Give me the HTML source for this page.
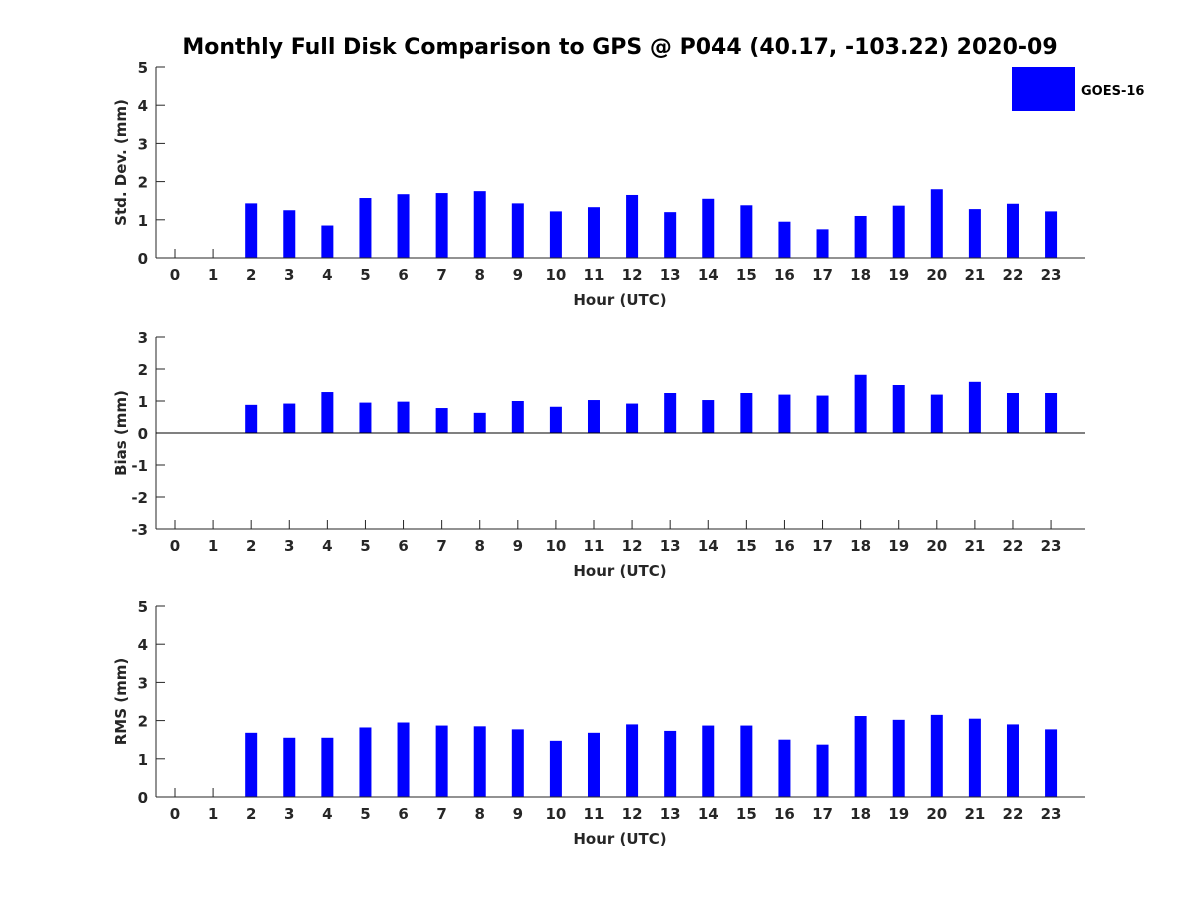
<!DOCTYPE html>
<html><head><meta charset="utf-8"><style>
body{margin:0;background:#fff;}
svg text{font-family:"DejaVu Sans","Liberation Sans",sans-serif;font-weight:bold;fill:#262626;}
</style></head><body>
<svg id="chart" width="1200" height="900" xmlns="http://www.w3.org/2000/svg">
<rect width="1200" height="900" fill="#fff"/>
<text x="620" y="54" text-anchor="middle" font-size="22" style="fill:#000">Monthly Full Disk Comparison to GPS @ P044 (40.17, -103.22) 2020-09</text>
<rect x="1012" y="67" width="63" height="44" fill="#0000ff"/>
<text x="1081" y="95" font-size="13" style="fill:#000">GOES-16</text>
</svg>
<script>
const hours = [0,1,2,3,4,5,6,7,8,9,10,11,12,13,14,15,16,17,18,19,20,21,22,23];
const stdDev = [null,null,1.43,1.25,0.85,1.57,1.67,1.7,1.75,1.43,1.22,1.33,1.65,1.2,1.55,1.38,0.95,0.75,1.1,1.37,1.8,1.28,1.42,1.22];
const bias = [null,null,0.88,0.92,1.28,0.95,0.98,0.78,0.63,1.0,0.82,1.03,0.92,1.25,1.03,1.25,1.2,1.17,1.82,1.5,1.2,1.6,1.25,1.25];
const rms = [null,null,1.68,1.55,1.55,1.82,1.95,1.87,1.85,1.77,1.47,1.68,1.9,1.73,1.87,1.87,1.5,1.37,2.12,2.02,2.15,2.05,1.9,1.77];
const stdTicks = [0,1,2,3,4,5];
const biasTicks = [-3,-2,-1,0,1,2,3];
const rmsTicks = [0,1,2,3,4,5];

const NS="http://www.w3.org/2000/svg";
const svg=document.getElementById('chart');
function mk(t,a){const e=document.createElementNS(NS,t);for(const k in a)e.setAttribute(k,a[k]);svg.appendChild(e);return e;}
const L=156,R=1085;
const xs=h=>175+h*38.09;
function panel(prefix,top,bottom,ymin,ymax,ticks,vals,ylabel){
  const ys=v=>bottom-(v-ymin)/(ymax-ymin)*(bottom-top);
  hours.forEach(h=>{
    const t=mk('line',{x1:xs(h),x2:xs(h),y1:bottom,y2:bottom-9,stroke:'#262626','stroke-width':1});
    
    
    const tx=mk('text',{x:xs(h),y:bottom+22,'text-anchor':'middle','font-size':15});
    tx.textContent=h;
    
    
  });
  ticks.forEach(v=>{
    const t=mk('line',{x1:L,x2:L+9,y1:ys(v),y2:ys(v),stroke:'#262626','stroke-width':1});
    
    
    const tx=mk('text',{x:L-8,y:ys(v)+6,'text-anchor':'end','font-size':15});
    tx.textContent=v;
    
    
  });
  vals.forEach((v,i)=>{
    if(v==null)return;
    const a=ys(0),b=ys(v);
    const r=mk('rect',{x:xs(hours[i])-6,y:Math.min(a,b),width:12,height:Math.abs(a-b),fill:'#0000ff'});
    
    
  });
  const ya=mk('line',{x1:L,x2:L,y1:top,y2:bottom,stroke:'#262626','stroke-width':1});
  
  
  const xa=mk('line',{x1:L,x2:R,y1:bottom,y2:bottom,stroke:'#262626','stroke-width':1});
  
  
  if(ymin<0){
    const z=mk('line',{x1:L,x2:R,y1:ys(0),y2:ys(0),stroke:'#000','stroke-width':1});
    
    
  }
  const xt=mk('text',{x:620,y:bottom+47,'text-anchor':'middle','font-size':15});
  xt.textContent='Hour (UTC)';
  
  
  const cy=(top+bottom)/2;
  const yt=mk('text',{x:126,y:cy,'text-anchor':'middle','font-size':15,transform:`rotate(-90 126 ${cy})`});
  yt.textContent=ylabel;
  
  
}
panel('std',67,258,0,5,stdTicks,stdDev,'Std. Dev. (mm)');
panel('bias',337,529,-3,3,biasTicks,bias,'Bias (mm)');
panel('rms',606,797,0,5,rmsTicks,rms,'RMS (mm)');
</script>
</body></html>
